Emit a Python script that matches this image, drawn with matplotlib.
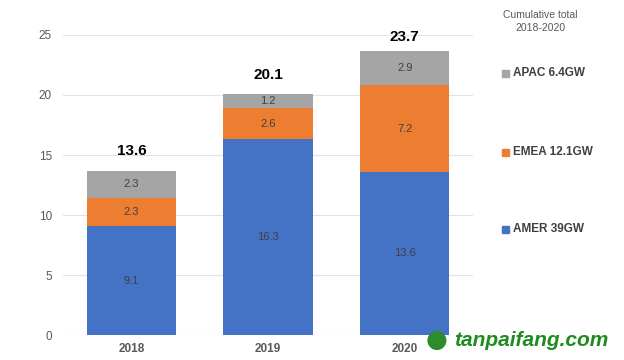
import matplotlib
matplotlib.use("Agg")
import matplotlib.pyplot as plt
import numpy as np

plt.rcParams['font.family'] = ['Liberation Sans', 'DejaVu Sans']

years = ["2018", "2019", "2020"]
amer = [9.1, 16.3, 13.6]
emea = [2.3, 2.6, 7.2]
apac = [2.3, 1.2, 2.9]
totals = ["13.6", "20.1", "23.7"]
legend_labels = ["APAC 6.4GW", "EMEA 12.1GW", "AMER 39GW"]

blue = "#4472C4"
orange = "#ED7D31"
grey = "#A5A5A5"

fig = plt.figure(figsize=(6.24, 3.6), dpi=100)
ax = fig.add_axes([0.101, 0.069, 0.657, 0.834])

x = np.arange(len(years))
w = 0.655
b1 = ax.bar(x, amer, w, color=blue, zorder=3)
b2 = ax.bar(x, emea, w, bottom=amer, color=orange, zorder=3)
bottom3 = np.array(amer) + np.array(emea)
b3 = ax.bar(x, apac, w, bottom=bottom3, color=grey, zorder=3)

for bars in (b1, b2, b3):
    ax.bar_label(bars, labels=[f"{v:.1f}" for v in bars.datavalues],
                 label_type="center", fontsize=8, color="#404040", zorder=4)

tops = bottom3 + np.array(apac)
for xi, t, lab in zip(x, tops, totals):
    ax.text(xi, min(t + 1.6, 24.8), lab, ha="center", va="center", fontsize=11,
            fontweight="bold", color="black", clip_on=False)

ax.set_xlim(-0.5, 2.5)
ax.set_ylim(0, 25)
ax.set_yticks(range(0, 26, 5))
ax.set_xticks(x)
ax.set_xticklabels(years, fontweight="bold")
ax.tick_params(axis="both", length=0, labelsize=8.5, colors="#595959")
ax.tick_params(axis="x", pad=6)
ax.tick_params(axis="y", pad=8)
ax.grid(axis="y", color="#E3E3E3", linewidth=0.8, zorder=0)
for s in ax.spines.values():
    s.set_visible(False)
ax.axhline(0, color="#D9D9D9", linewidth=0.8, zorder=2)

# legend on the right
fig.text(0.866, 0.94, "Cumulative total\n2018-2020", ha="center", va="center",
         fontsize=7.5, color="#595959", linespacing=1.3)
leg_colors = [grey, orange, blue]
leg_y = [0.797, 0.578, 0.364]
for c, yy, lab in zip(leg_colors, leg_y, legend_labels):
    fig.patches.append(plt.Rectangle((0.804, yy - 0.011), 0.011, 0.019,
                                     transform=fig.transFigure, color=c))
    fig.text(0.822, yy, lab, ha="left", va="center", fontsize=8.5,
             fontweight="bold", color="#404040")

# watermark
fig.text(0.70, 0.055, "\u25cf", ha="center", va="center", fontsize=18,
         color="#2E8B2E", family=["DejaVu Sans"])
fig.text(0.728, 0.055, "tanpaifang.com", ha="left", va="center", fontsize=15,
         fontweight="bold", style="italic", color="#1E8C1E")

fig.savefig("out.png", dpi=100)
